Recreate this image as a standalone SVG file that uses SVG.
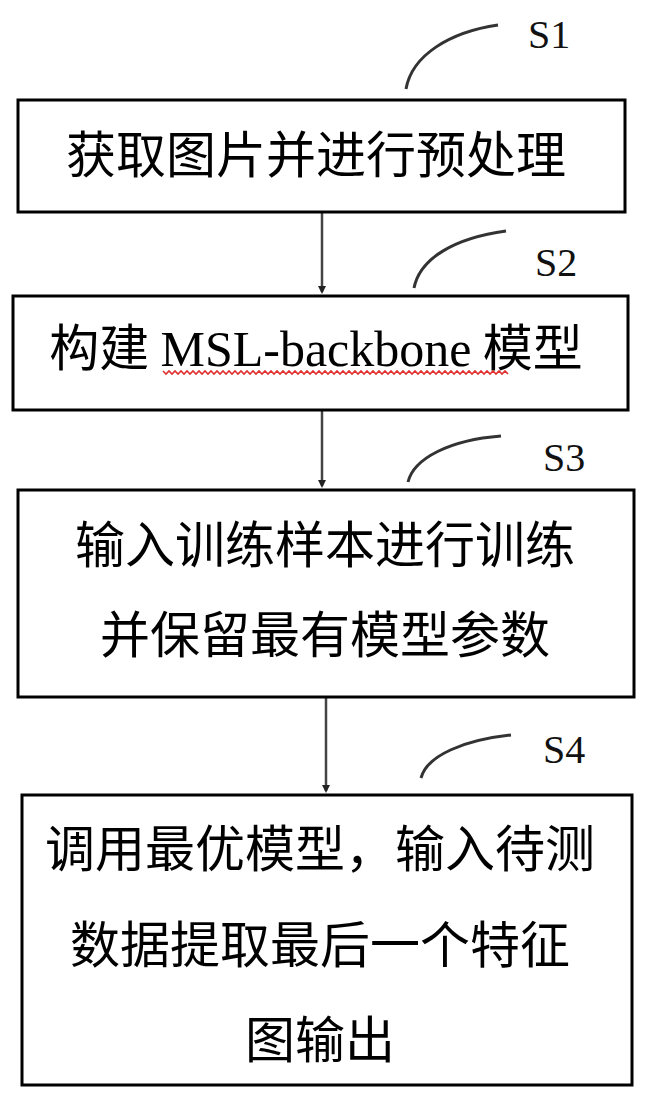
<svg xmlns="http://www.w3.org/2000/svg" width="648" height="1100" viewBox="0 0 648 1100">
<style>
.box{fill:#fff;stroke:#000;stroke-width:3}
.t{font-family:"Noto Sans CJK SC","Liberation Serif",sans-serif;font-size:50px;fill:#000;text-anchor:middle}
.lat{font-family:"Liberation Serif",serif}
.lbl{font-family:"Liberation Serif",serif;font-size:40px;fill:#111}
.lead{fill:none;stroke:#333;stroke-width:3}
.conn{stroke:#444;stroke-width:2.5}
</style>
<defs>
<marker id="ah" markerWidth="8" markerHeight="8" refX="6" refY="4" orient="auto" markerUnits="userSpaceOnUse">
<path d="M0,0 L8,4 L0,8 z" fill="#222"/>
</marker>
</defs>
<rect width="648" height="1100" fill="#fff"/>
<g id="connectors">
<line class="conn" x1="322" y1="213" x2="322" y2="292" marker-end="url(#ah)"/>
<line class="conn" x1="322" y1="411" x2="322" y2="486" marker-end="url(#ah)"/>
<line class="conn" x1="326" y1="698" x2="326" y2="791" marker-end="url(#ah)"/>
</g>
<g id="S1">
<path class="lead" d="M406,89 C412,55 450,32 498,25"/>
<text class="lbl" x="528" y="48">S1</text>
</g>
<g id="S2">
<path class="lead" d="M414,288 C420,258 455,238 506,231"/>
<text class="lbl" x="535" y="276">S2</text>
</g>
<g id="S3">
<path class="lead" d="M408,482 C414,458 450,440 501,436"/>
<text class="lbl" x="543" y="471">S3</text>
</g>
<g id="S4">
<path class="lead" d="M421,778 C427,755 465,740 511,735"/>
<text class="lbl" x="543" y="763">S4</text>
</g>
<g id="n1">
<rect class="box" x="18" y="100" width="607" height="112"/>
<text class="t" x="316" y="173">获取图片并进行预处理</text>
</g>
<g id="n2">
<rect class="box" x="13" y="296" width="615" height="114"/>
<text class="t" x="316" y="366">构建 <tspan class="lat">MSL-backbone</tspan> 模型</text>
<path d="M163,371 l3,3 l3,-3 l3,3 l3,-3 l3,3 l3,-3 l3,3 l3,-3 l3,3 l3,-3 l3,3 l3,-3 l3,3 l3,-3 l3,3 l3,-3 l3,3 l3,-3 l3,3 l3,-3 l3,3 l3,-3 l3,3 l3,-3 l3,3 l3,-3 l3,3 l3,-3 l3,3 l3,-3 l3,3 l3,-3 l3,3 l3,-3 l3,3 l3,-3 l3,3 l3,-3 l3,3 l3,-3 l3,3 l3,-3 l3,3 l3,-3 l3,3 l3,-3 l3,3 l3,-3 l3,3 l3,-3 l3,3 l3,-3 l3,3 l3,-3 l3,3 l3,-3 l3,3 l3,-3 l3,3 l3,-3 l3,3 l3,-3 l3,3 l3,-3 l3,3 l3,-3 l3,3 l3,-3 l3,3 l3,-3 l3,3 l3,-3 l3,3 l3,-3 l3,3 l3,-3 l3,3 l3,-3 l3,3 l3,-3 l3,3 l3,-3 l3,3 l3,-3 l3,3 l3,-3 l3,3 l3,-3 l3,3 l3,-3 l3,3 l3,-3 l3,3 l3,-3 l3,3 l3,-3 l3,3 l3,-3 l3,3 l3,-3 l3,3 l3,-3 l3,3 l3,-3 l3,3 l3,-3 l3,3 l3,-3 l3,3 l3,-3 l3,3 l3,-3 l3,3 l3,-3 l3,3" fill="none" stroke="#e03030" stroke-width="1.6"/>
</g>
<g id="n3">
<rect class="box" x="18" y="490" width="616" height="207"/>
<text class="t" x="325" y="563">输入训练样本进行训练</text>
<text class="t" x="325" y="653">并保留最有模型参数</text>
</g>
<g id="n4">
<rect class="box" x="22" y="795" width="610" height="290"/>
<text class="t" x="320" y="867">调用最优模型，输入待测</text>
<text class="t" x="320" y="963">数据提取最后一个特征</text>
<text class="t" x="320" y="1058">图输出</text>
</g>
</svg>
